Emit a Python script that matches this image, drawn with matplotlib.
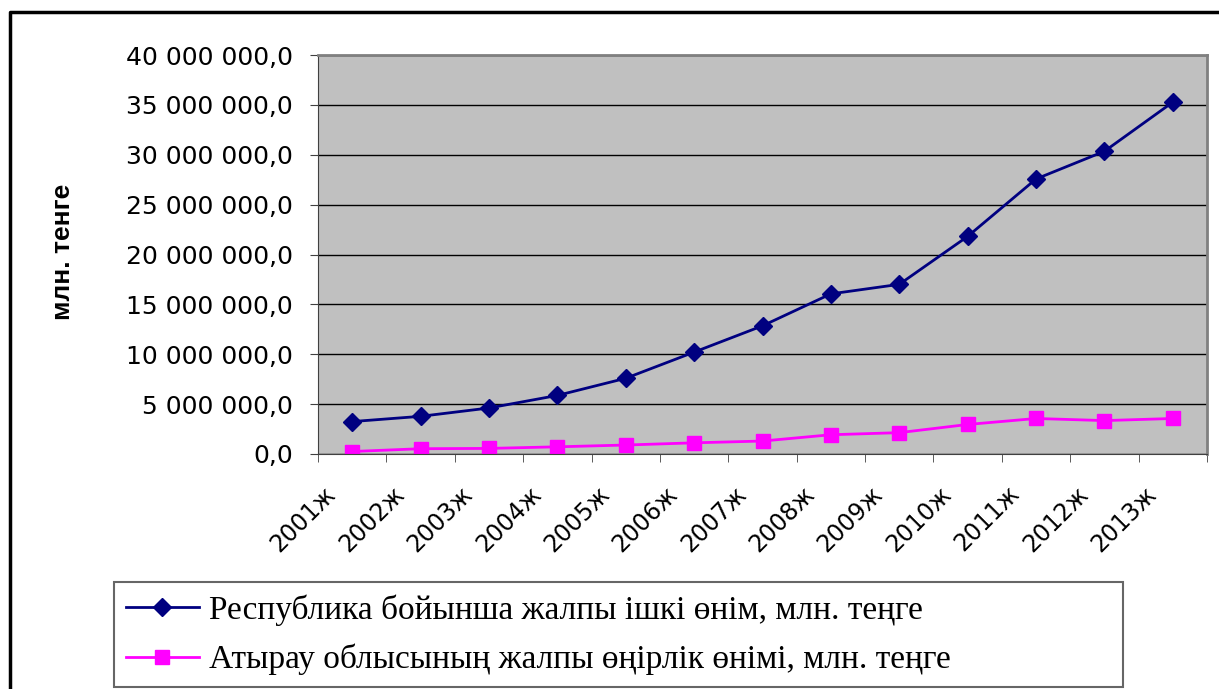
import numpy as np
import matplotlib.pyplot as plt
from matplotlib.lines import Line2D
from matplotlib.transforms import ScaledTranslation
from matplotlib.ticker import FuncFormatter, FixedLocator

# Data (млн. теңге)
years = ['2001ж', '2002ж', '2003ж', '2004ж', '2005ж', '2006ж', '2007ж',
         '2008ж', '2009ж', '2010ж', '2011ж', '2012ж', '2013ж']
gdp_republic = [3250593, 3776277, 4611975, 5870135, 7590594, 10213731, 12849794,
                16052919, 17007647, 21815517, 27571889, 30346958, 35275153]
grp_atyrau = [250000, 530000, 560000, 720000, 900000, 1120000, 1300000,
              1930000, 2140000, 2960000, 3560000, 3350000, 3560000]

label_rep = 'Республика бойынша жалпы ішкі өнім, млн. теңге'
label_aty = 'Атырау облысының жалпы өңірлік өнімі, млн. теңге'

W, H = 1219, 689
fig = plt.figure(figsize=(W / 100, H / 100), dpi=100)
ax = fig.add_axes([318 / W, 1 - 454 / H, (1207 - 318) / W, (454 - 55) / H])

x = np.arange(len(years))
ax.plot(x, gdp_republic, color='#000080', lw=2, marker='D', ms=9, label=label_rep)
ax.plot(x, grp_atyrau, color='#FF00FF', lw=2, marker='s', ms=10, label=label_aty)

ax.set_facecolor('#C0C0C0')
ax.set_xlim(-0.5, len(years) - 0.5)
ax.set_ylim(0, 40_000_000)
ax.set_yticks(np.arange(0, 40_000_001, 5_000_000))
ax.yaxis.set_major_formatter(FuncFormatter(
    lambda v, p: f'{v:,.1f}'.replace(',', ' ').replace('.', ',')))
ax.grid(axis='y', color='black', lw=1)
ax.set_axisbelow(True)

ax.set_xticks(x)
ax.xaxis.set_minor_locator(FixedLocator(np.arange(-0.5, len(years), 1)))
ax.tick_params(axis='x', which='major', length=0, pad=26)
ax.tick_params(axis='x', which='minor', length=6, color='#404040')
ax.tick_params(axis='y', length=6, color='#404040', labelsize=18, pad=12)
for t in ax.get_yticklabels():
    t.set_family('DejaVu Sans')

ax.set_xticklabels(years, rotation=45, ha='right', va='center',
                   rotation_mode='anchor', fontsize=17, family='DejaVu Sans')
# nudge the slanted year labels to the left, as in the original
shift = ScaledTranslation(-20 / 100, 0, fig.dpi_scale_trans)
for t in ax.get_xticklabels():
    t.set_transform(t.get_transform() + shift)

ax.spines['top'].set_color('#808080')
ax.spines['right'].set_color('#808080')
ax.spines['top'].set_linewidth(2)
ax.spines['right'].set_linewidth(2)
ax.spines['left'].set_color('#404040')
ax.spines['bottom'].set_color('#404040')

fig.text(63 / W, 1 - 252 / H, 'млн. тенге', rotation=90, ha='center', va='center',
         fontsize=19, fontweight='bold', family='Liberation Sans')

leg = fig.legend(loc='lower left',
                 bbox_to_anchor=(114 / W, 1 - 687 / H, (1123 - 114) / W, (687 - 584) / H),
                 mode='expand', prop={'family': 'Liberation Serif', 'size': 24},
                 frameon=True, fancybox=False, edgecolor='#404040',
                 handlelength=2.2, borderpad=0.35, labelspacing=0.55,
                 handletextpad=0.3, borderaxespad=0)
leg.get_frame().set_linewidth(1.5)

# outer chart border (left and top edges)
fig.lines.append(Line2D([10 / W, 10 / W, 1], [0, 1 - 12 / H, 1 - 12 / H],
                        transform=fig.transFigure, color='black', lw=2.5))

plt.savefig('out.png', dpi=100)
